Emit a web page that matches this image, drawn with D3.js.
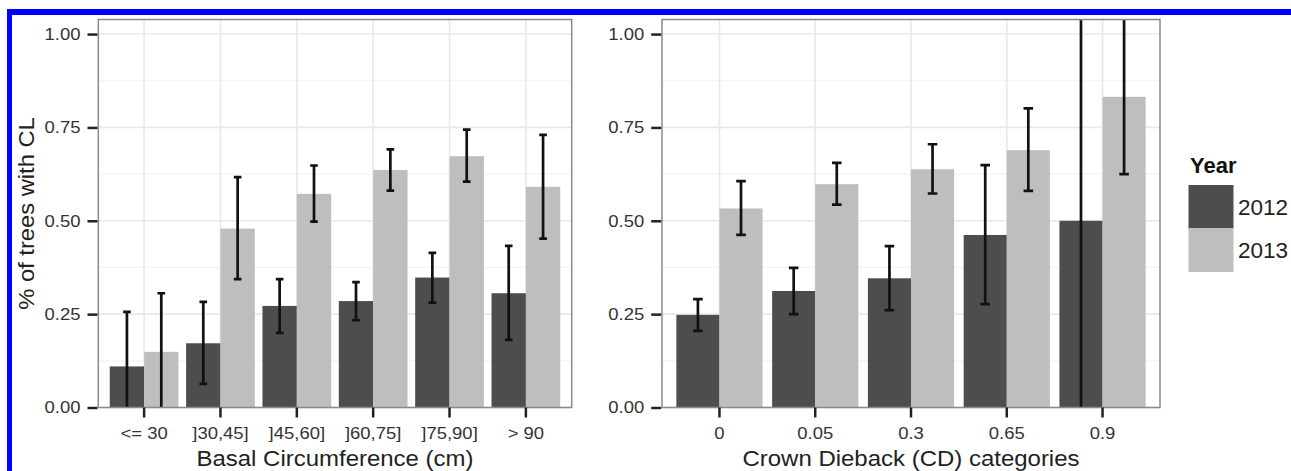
<!DOCTYPE html>
<html>
<head>
<meta charset="utf-8">
<script src="https://cdn.jsdelivr.net/npm/d3@7"></script>
<style>
  body { margin: 0; background: #fff; }
  text { font-family: "Liberation Sans", Arial, Helvetica, sans-serif; }
  .sx { transform-box: fill-box; transform-origin: center; transform: scaleX(1.1); }
  .sxr { transform-box: fill-box; transform-origin: right center; transform: scaleX(1.1); }
</style>
</head>
<body>
<div id="chart"></div>
<script>
// categories
var basalCats = ["<= 30", "]30,45]", "]45,60]", "]60,75]", "]75,90]", "> 90"];
var dieCats = ["0", "0.05", "0.3", "0.65", "0.9"];
var years = ["2012", "2013"];
var yTicks = [0, 0.25, 0.5, 0.75, 1];
var yMinor = [0.125, 0.375, 0.625, 0.875];

// basal circumference panel
var basal2012 = [0.110, 0.172, 0.272, 0.285, 0.348, 0.306];
var basal2012Lo = [-0.03, 0.063, 0.200, 0.234, 0.281, 0.181];
var basal2012Hi = [0.256, 0.283, 0.344, 0.336, 0.414, 0.433];
var basal2013 = [0.149, 0.479, 0.572, 0.636, 0.673, 0.591];
var basal2013Lo = [-0.03, 0.344, 0.498, 0.581, 0.605, 0.452];
var basal2013Hi = [0.306, 0.617, 0.648, 0.691, 0.744, 0.730];

// crown dieback panel
var die2012 = [0.248, 0.312, 0.346, 0.462, 0.500];
var die2012Lo = [0.205, 0.250, 0.261, 0.277, -0.05];
var die2012Hi = [0.290, 0.374, 0.432, 0.649, 1.10];
var die2013 = [0.533, 0.598, 0.638, 0.689, 0.832];
var die2013Lo = [0.462, 0.543, 0.573, 0.580, 0.625];
var die2013Hi = [0.606, 0.655, 0.705, 0.801, 1.10];

var W = 1291, H = 471;
var top_ = 19.5, bottom_ = 407.5;
var fills = {"2012": "#4d4d4d", "2013": "#bebebe"};

var svg = d3.select("#chart").append("svg")
  .attr("width", W).attr("height", H);

svg.append("rect").attr("width", W).attr("height", H).attr("fill", "#fff");

var y = d3.scaleLinear().domain([0, 1.039]).range([bottom_, top_]);

function buildRows(cats, v12, lo12, hi12, v13, lo13, hi13) {
  var rows = [];
  cats.forEach(function(c, i) {
    rows.push({cat: c, year: "2012", v: v12[i], lo: lo12[i], hi: hi12[i]});
    rows.push({cat: c, year: "2013", v: v13[i], lo: lo13[i], hi: hi13[i]});
  });
  return rows;
}

function drawPanel(id, x0, x1, cats, rows, xTitle) {
  var x = d3.scaleBand().domain(cats).range([x0, x1])
    .paddingInner(0.1).paddingOuter(0.15);
  var xs = d3.scaleBand().domain(years).range([0, x.bandwidth()]);

  svg.append("clipPath").attr("id", "clip-" + id)
    .append("rect").attr("x", x0).attr("y", top_)
    .attr("width", x1 - x0).attr("height", bottom_ - top_);

  var g = svg.append("g");

  // grid
  g.selectAll(".minor").data(yMinor).enter().append("line")
    .attr("x1", x0).attr("x2", x1)
    .attr("y1", function(d) { return y(d); }).attr("y2", function(d) { return y(d); })
    .attr("stroke", "#f3f3f3").attr("stroke-width", 1.2);
  g.selectAll(".major").data(yTicks).enter().append("line")
    .attr("x1", x0).attr("x2", x1)
    .attr("y1", function(d) { return y(d); }).attr("y2", function(d) { return y(d); })
    .attr("stroke", "#e8e8e8").attr("stroke-width", 1.6);
  g.selectAll(".vgrid").data(cats).enter().append("line")
    .attr("x1", function(d) { return x(d) + x.bandwidth() / 2; })
    .attr("x2", function(d) { return x(d) + x.bandwidth() / 2; })
    .attr("y1", top_).attr("y2", bottom_)
    .attr("stroke", "#e8e8e8").attr("stroke-width", 1.6);

  var inner = g.append("g").attr("clip-path", "url(#clip-" + id + ")");

  inner.selectAll(".bar").data(rows).enter().append("rect")
    .attr("x", function(d) { return x(d.cat) + xs(d.year); })
    .attr("width", xs.bandwidth())
    .attr("y", function(d) { return y(d.v); })
    .attr("height", function(d) { return y(0) - y(d.v); })
    .attr("fill", function(d) { return fills[d.year]; });

  var capW = x.step() * 0.1;
  var eb = inner.selectAll(".err").data(rows).enter().append("g")
    .attr("transform", function(d) {
      return "translate(" + (x(d.cat) + xs(d.year) + xs.bandwidth() / 2) + ",0)";
    });
  eb.append("line").attr("x1", 0).attr("x2", 0)
    .attr("y1", function(d) { return y(d.lo); })
    .attr("y2", function(d) { return y(d.hi); })
    .attr("stroke", "#111").attr("stroke-width", 2.7);
  eb.append("line").attr("x1", -capW / 2).attr("x2", capW / 2)
    .attr("y1", function(d) { return y(d.lo); })
    .attr("y2", function(d) { return y(d.lo); })
    .attr("stroke", "#111").attr("stroke-width", 2.7);
  eb.append("line").attr("x1", -capW / 2).attr("x2", capW / 2)
    .attr("y1", function(d) { return y(d.hi); })
    .attr("y2", function(d) { return y(d.hi); })
    .attr("stroke", "#111").attr("stroke-width", 2.7);

  // panel border
  g.append("rect").attr("x", x0).attr("y", top_)
    .attr("width", x1 - x0).attr("height", bottom_ - top_)
    .attr("fill", "none").attr("stroke", "#8a8a8a").attr("stroke-width", 1.5);

  // axes
  var yAxis = svg.append("g").attr("transform", "translate(" + (x0 - 0.8) + ",0)")
    .call(d3.axisLeft(y).tickValues(yTicks).tickFormat(d3.format(".2f"))
      .tickSize(10).tickPadding(7));
  var xAxis = svg.append("g").attr("transform", "translate(0," + bottom_ + ")")
    .call(d3.axisBottom(x).tickSize(10).tickPadding(9.5));

  [yAxis, xAxis].forEach(function(ax) {
    ax.select(".domain").remove();
    ax.selectAll(".tick line").attr("stroke", "#222").attr("stroke-width", 2.5);
    ax.selectAll(".tick text").attr("font-size", 16.8).attr("fill", "#333")
      .style("font-family", "'Liberation Sans', Arial, sans-serif");
  });
  yAxis.selectAll(".tick text").attr("class", "sxr");
  xAxis.selectAll(".tick text").attr("class", "sx");

  svg.append("text").attr("class", "sx")
    .attr("x", (x0 + x1) / 2).attr("y", 466)
    .attr("text-anchor", "middle").attr("font-size", 21.8).attr("fill", "#222")
    .text(xTitle);
}

drawPanel("basal", 98.3, 571.7, basalCats,
  buildRows(basalCats, basal2012, basal2012Lo, basal2012Hi, basal2013, basal2013Lo, basal2013Hi),
  "Basal Circumference (cm)");
drawPanel("die", 662, 1160, dieCats,
  buildRows(dieCats, die2012, die2012Lo, die2012Hi, die2013, die2013Lo, die2013Hi),
  "Crown Dieback (CD) categories");

// y title
svg.append("g").attr("transform", "translate(33.5," + ((top_ + bottom_) / 2) + ") rotate(-90)")
  .append("text").attr("class", "sx")
  .attr("text-anchor", "middle").attr("font-size", 21.6).attr("fill", "#222")
  .text("% of trees with CL");

// legend
var leg = svg.append("g");
leg.append("text").attr("x", 1190).attr("y", 173)
  .attr("font-size", 22).attr("font-weight", "bold").attr("fill", "#111")
  .text("Year");
var keyTop = [185, 228];
leg.selectAll(".key").data(years).enter().append("rect")
  .attr("x", 1188.5).attr("width", 45)
  .attr("y", function(d, i) { return keyTop[i]; })
  .attr("height", 44)
  .attr("fill", function(d) { return fills[d]; });
leg.selectAll(".lab").data(years).enter().append("text")
  .attr("x", 1238)
  .attr("y", function(d, i) { return keyTop[i] + 22; })
  .attr("dy", "0.36em")
  .attr("font-size", 22.5).attr("fill", "#222")
  .text(function(d) { return d; });

// blue frame
svg.append("rect").attr("x", 7).attr("y", 9).attr("width", W - 7).attr("height", 6).attr("fill", "#0000ff");
svg.append("rect").attr("x", 7).attr("y", 9).attr("width", 5).attr("height", H - 9).attr("fill", "#0000ff");
</script>
</body>
</html>
